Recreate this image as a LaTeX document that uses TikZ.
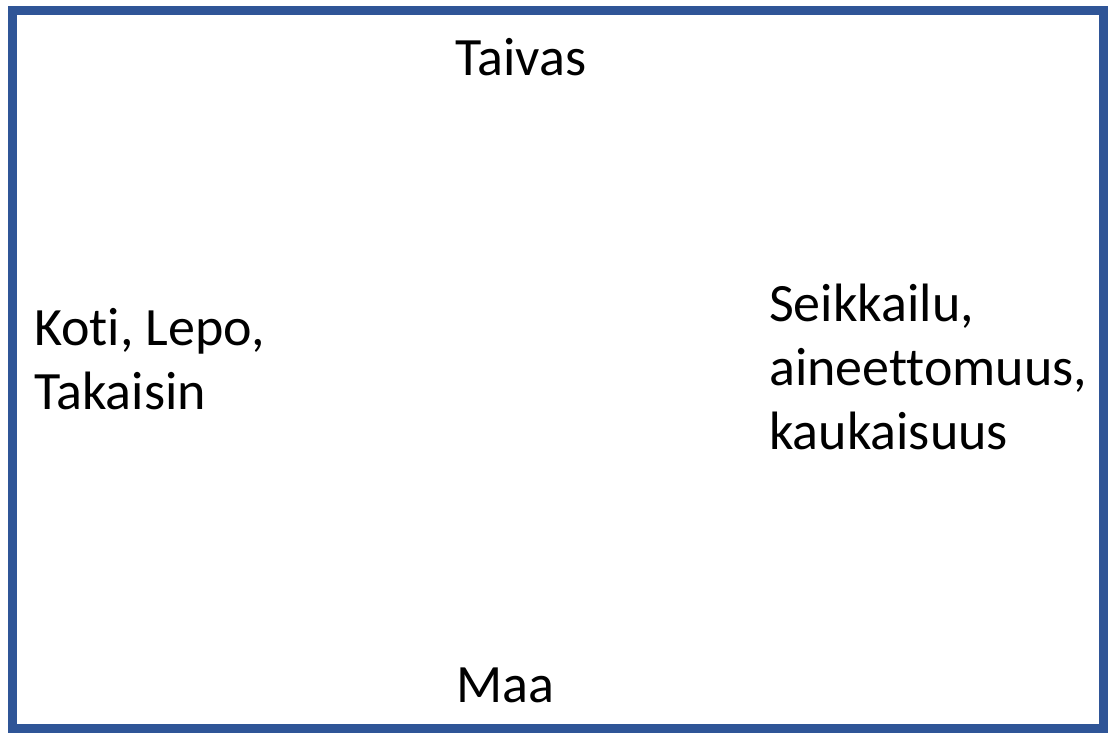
\documentclass[tikz,border=0pt]{standalone}
\usepackage{fontspec}
\setmainfont[RawFeature={-liga}]{Carlito}
\definecolor{frameblue}{HTML}{2F5597}
\begin{document}
\begin{tikzpicture}[x=1pt,y=1pt,
  lbl/.style={inner sep=0pt, font=\fontsize{54}{64}\selectfont, align=left}]
\useasboundingbox (0,0) rectangle (1108,733);
\draw[frameblue, line width=9pt] (12.5,4) rectangle (1103.5,722.5);
\node[lbl, anchor=base] (taivas) at (521,657) {Taivas};
\node[lbl, anchor=base] (maa) at (505,30) {Maa};
\node[lbl, anchor=base west] (koti) at (34,323) {Koti, Lepo,\\Takaisin};
\node[lbl, anchor=base west] (seik) at (769,283) {Seikkailu,\\aineettomuus,\\kaukaisuus};
\end{tikzpicture}
\end{document}
